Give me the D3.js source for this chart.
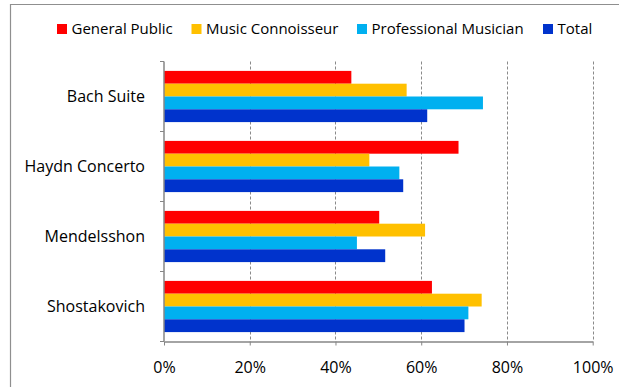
<!DOCTYPE html>
<html><head><meta charset="utf-8">
<script src="https://cdn.jsdelivr.net/npm/d3@7"></script>
<style>
html,body{margin:0;padding:0;background:#fff;}
svg{display:block;}
text{font-family:"Open Sans",sans-serif;fill:#000;}
</style></head>
<body><div id="chart"></div>
<script>
const categories = ["Bach Suite","Haydn Concerto","Mendelsshon","Shostakovich"];
const seriesNames = ["General Public","Music Connoisseur","Professional Musician","Total"];
const generalPublic = [0.437,0.687,0.502,0.625];
const musicConnoisseur = [0.566,0.479,0.609,0.741];
const professionalMusician = [0.744,0.549,0.450,0.710];
const total = [0.614,0.558,0.516,0.701];
const tickValues = [0,0.2,0.4,0.6,0.8,1.0];
const colors = ["#FF0000","#FFC000","#00B0F0","#0033CC"];

const seriesValues = [generalPublic,musicConnoisseur,professionalMusician,total];
const W=619,H=387;
const svg=d3.select("#chart").append("svg").attr("width",W).attr("height",H);

// outer frame
svg.append("path").attr("d",`M10.5,${H} L10.5,4.5 L${W},4.5`).attr("fill","none").attr("stroke","#8f8f8f").attr("stroke-width",1.2);

const pLeft=164, pRight=592.7, pTop=61.5, pBottom=341.5;
const x=d3.scaleLinear().domain([0,1]).range([pLeft,pRight]);
const p=0.2686;
const y0=d3.scaleBand().domain(categories).range([pTop,pBottom]).paddingInner(p).paddingOuter(p/2);
const y1=d3.scaleBand().domain(seriesNames).range([0,y0.bandwidth()]);

// gridlines
svg.append("g").selectAll("line").data(tickValues.slice(1)).join("line")
  .attr("x1",d=>Math.round(x(d))+0.5).attr("x2",d=>Math.round(x(d))+0.5)
  .attr("y1",pTop).attr("y2",pBottom)
  .attr("stroke","#8a8a8a").attr("stroke-width",1).attr("stroke-dasharray","3,2");

// bars
const data=[];
categories.forEach((c,i)=>seriesNames.forEach((s,j)=>data.push({c,s,j,v:seriesValues[j][i]})));
svg.append("g").selectAll("rect").data(data).join("rect")
  .attr("x",x(0)).attr("y",d=>y0(d.c)+y1(d.s))
  .attr("width",d=>x(d.v)-x(0)).attr("height",y1.bandwidth())
  .attr("fill",d=>colors[d.j]);

// x axis
const xAxis=d3.axisBottom(x).tickValues(tickValues).tickFormat(d3.format(".0%")).tickSize(4).tickSizeOuter(0).tickPadding(17);
const gx=svg.append("g").attr("transform",`translate(0,${pBottom})`).call(xAxis);
gx.select(".domain").attr("stroke","#868686").attr("stroke-width",1.5);
gx.selectAll(".tick line").attr("stroke","#868686").attr("stroke-width",1);
gx.selectAll("text").attr("font-size",16).attr("font-family","Open Sans").attr("fill","#000").attr("dy","0.32em").attr("y",26);

// y axis
const step=y0.step();
const bounds=categories.map(c=>y0(c)-step*p/2).concat([y0(categories[categories.length-1])-step*p/2+step]);
svg.append("line").attr("x1",pLeft).attr("x2",pLeft).attr("y1",pTop).attr("y2",pBottom)
  .attr("stroke","#868686").attr("stroke-width",1.5);
svg.append("g").selectAll("line").data(bounds).join("line")
  .attr("x1",pLeft-4).attr("x2",pLeft).attr("y1",d=>d).attr("y2",d=>d)
  .attr("stroke","#868686").attr("stroke-width",1);
svg.append("g").selectAll("text").data(categories).join("text")
  .attr("x",145).attr("y",d=>y0(d)+y0.bandwidth()/2).attr("dy","0.35em")
  .attr("text-anchor","end").attr("font-size",16).text(d=>d);

// legend
const legendX=[57,191.5,357,543];
const lg=svg.append("g").selectAll("g").data(seriesNames).join("g")
  .attr("transform",(d,i)=>`translate(${legendX[i]},24)`);
lg.append("rect").attr("width",10).attr("height",10).attr("fill",(d,i)=>colors[i]);
lg.append("text").attr("x",14.5).attr("y",5).attr("dy","0.35em").attr("font-size",15).text(d=>d);
</script></body></html>
